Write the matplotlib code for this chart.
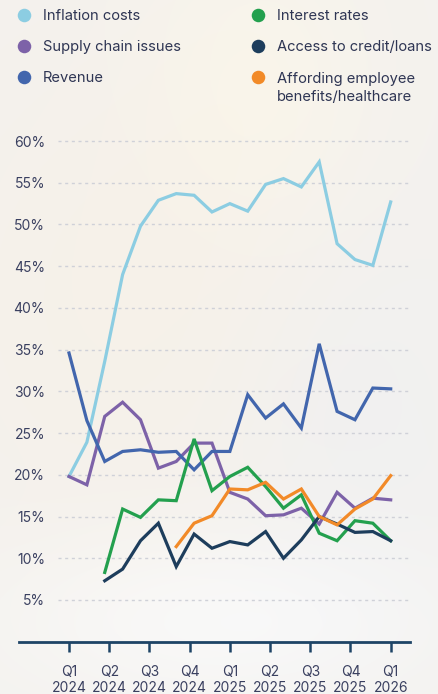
import numpy as np
import matplotlib
matplotlib.use("Agg")
import matplotlib.pyplot as plt

plt.rcParams["font.family"] = ["Inter", "DejaVu Sans"]

nan = np.nan

# ---- data (percent) ----
inflation = [19.8, 23.9, 33.6, 44.0, 49.8, 52.9, 53.7, 53.5, 51.5, 52.5,
             51.6, 54.8, 55.5, 54.5, 57.5, 47.7, 45.8, 45.1, 52.7]
supply_chain = [19.8, 18.8, 27.0, 28.7, 26.6, 20.8, 21.6, 23.8, 23.8, 17.9,
                17.1, 15.1, 15.2, 16.0, 14.1, 17.9, 16.0, 17.2, 17.0]
revenue = [34.6, 26.5, 21.6, 22.8, 23.0, 22.7, 22.8, 20.6, 22.8, 22.8,
           29.6, 26.8, 28.5, 25.6, 35.7, 27.6, 26.6, 30.4, 30.3]
interest = [nan, nan, 8.3, 15.9, 14.9, 17.0, 16.9, 24.3, 18.1, 19.8,
            20.9, 18.6, 16.0, 17.6, 13.0, 12.1, 14.5, 14.2, 12.1]
credit = [nan, nan, 7.3, 8.7, 12.1, 14.2, 9.0, 12.9, 11.2, 12.0,
          11.6, 13.2, 10.0, 12.2, 15.0, 14.1, 13.1, 13.2, 12.1]
benefits = [nan, nan, nan, nan, nan, nan, 11.4, 14.2, 15.1, 18.3,
            18.2, 19.1, 17.1, 18.3, 15.0, 14.0, 15.9, 17.1, 19.9]

series_names = ["Inflation costs", "Supply chain issues", "Revenue",
                "Interest rates", "Access to credit/loans",
                "Affording employee\nbenefits/healthcare"]
series_colors = ["#8ccde2", "#7d62a8", "#4266ad", "#23a04e", "#1d3d5c", "#f28a28"]
series_values = [inflation, supply_chain, revenue, interest, credit, benefits]

x_labels = ["Q1\n2024", "Q2\n2024", "Q3\n2024", "Q4\n2024", "Q1\n2025",
            "Q2\n2025", "Q3\n2025", "Q4\n2025", "Q1\n2026"]
y_ticks = [5, 10, 15, 20, 25, 30, 35, 40, 45, 50, 55, 60]

W, H = 439, 694
fig = plt.figure(figsize=(W / 100, H / 100), dpi=100)

# ---- background (soft blurred photo look) ----
bg = fig.add_axes([0, 0, 1, 1])
bg.set_xlim(0, W)
bg.set_ylim(H, 0)
bg.axis("off")
yy, xx = np.mgrid[0:H, 0:W]
warm = np.exp(-(((xx - 120) / 200.0) ** 2 + ((yy - 300) / 260.0) ** 2))
warm2 = np.exp(-(((xx - 260) / 120.0) ** 2 + ((yy - 80) / 160.0) ** 2))
cool = np.exp(-(((xx - 360) / 120.0) ** 2 + ((yy - 420) / 200.0) ** 2))
lightb = np.exp(-(((xx - 220) / 220.0) ** 2 + ((yy - 620) / 90.0) ** 2))
base = np.array([0.955, 0.948, 0.935])
img = np.zeros((H, W, 3))
for c in range(3):
    img[:, :, c] = base[c]
img += warm[..., None] * (np.array([0.965, 0.945, 0.915]) - base)
img += warm2[..., None] * (np.array([0.975, 0.960, 0.925]) - base)
img += cool[..., None] * (np.array([0.945, 0.945, 0.945]) - base)
img += lightb[..., None] * (np.array([0.975, 0.975, 0.975]) - base)
bg.imshow(np.clip(img, 0, 1), extent=(0, W, H, 0), aspect="auto", zorder=0)

# ---- legend ----
text_color = "#2f3654"
leg_pos = [(24, 15), (24, 46), (24, 77), (258, 15), (258, 46), (258, 77)]
for (px, py), name, col in zip(leg_pos, series_names, series_colors):
    bg.scatter([px], [py], s=95, color=col, zorder=3, linewidths=0)
    ty = py + 1 if "\n" not in name else py + 11
    bg.text(px + 19, ty, name, fontsize=10.6, color=text_color, va="center",
            ha="left", linespacing=1.3, zorder=3)

# ---- main axes ----
left_px, right_px = 19, 410
bottom_px, top_px = 641.7, 132.7
ax = fig.add_axes([left_px / W, 1 - bottom_px / H,
                   (right_px - left_px) / W, (bottom_px - top_px) / H])
ax.patch.set_alpha(0)

step = (390.7 - 69) / 18
x0 = (left_px - 69) / step
x1 = (right_px - 69) / step
ax.set_xlim(x0, x1)
ax.set_ylim(0, 61)

xs = np.arange(len(inflation))
for vals, col in zip(series_values, series_colors):
    ax.plot(xs, vals, color=col, lw=2.3, solid_joinstyle="miter", zorder=3)

# gridlines
g0 = (57.7 - 69) / step
for v in y_ticks:
    ax.plot([g0, x1], [v, v], color="#cfd1d8", lw=1.0, ls=(0, (2.2, 2.6)), zorder=1)

for s in ["top", "left", "right"]:
    ax.spines[s].set_visible(False)
ax.spines["bottom"].set_color("#1e4466")
ax.spines["bottom"].set_linewidth(2.0)

ax.set_yticks(y_ticks)
ax.set_yticklabels([f"{v}%" for v in y_ticks])
ax.tick_params(axis="y", length=0, pad=-18.7, labelsize=10, labelcolor="#3a4060")
for lab in ax.get_yticklabels():
    lab.set_horizontalalignment("right")

ax.set_xticks(np.linspace(0, 18, len(x_labels)))
ax.set_xticklabels(x_labels, linespacing=1.2)
ax.tick_params(axis="x", length=7.5, width=1.8, color="#1e4466", pad=9,
               labelsize=10, labelcolor="#3a4060")

fig.savefig("out.png", dpi=100)
